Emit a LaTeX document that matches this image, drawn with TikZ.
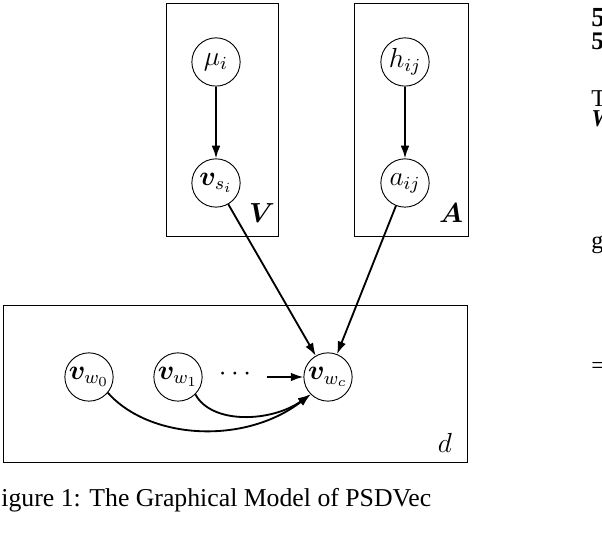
\documentclass[tikz,border=0pt]{standalone}
\usepackage{bm}
\usepackage{fontspec}
\newfontfamily\capfont{Liberation Serif}
\usetikzlibrary{arrows.meta}
\begin{document}
\begin{tikzpicture}[x=0.435pt,y=-0.435pt,
  font=\fontsize{11.5}{14}\selectfont,
  var/.style={circle,draw,thin,minimum size=21pt,inner sep=0pt},
  plate/.style={draw,thin},
  arr/.style={-{Latex[length=5.5pt,width=3.8pt]},thick},
  lbl/.style={inner sep=0pt},
  side/.style={inner sep=0pt,anchor=base west}]
\useasboundingbox (0,0) rectangle (602,550);
\clip (0,0) rectangle (602,550);
% plates
\draw[plate] (166,3) rectangle (278,236);
\draw[plate] (354,3) rectangle (468,236);
\draw[plate] (3,305) rectangle (467,462);
\node[lbl] (Vl) at (262,213) {$\bm{V}$};
\node[lbl] (Al) at (451,213) {$\bm{A}$};
\node[lbl] (dl) at (445,443) {$d$};
% variables
\node[var] (mu) at (216,62) {$\mu_i$};
\node[var] (vs) at (216,183) {$\bm{v}_{s_i}$};
\node[var] (h) at (405,62) {$h_{ij}$};
\node[var] (a) at (405,183) {$a_{ij}$};
\node[var] (w0) at (89,377) {$\bm{v}_{w_0}$};
\node[var] (w1) at (178,377) {$\bm{v}_{w_1}$};
\node[lbl] (dots) at (235,374) {$\cdots$};
\node[var] (wc) at (328,377) {$\bm{v}_{w_c}$};
\coordinate (ds) at (267,377);
% edges
\draw[arr] (mu) -- (vs);
\draw[arr] (h) -- (a);
\draw[arr] (vs) -- (wc);
\draw[arr] (a) -- (wc);
\draw[arr] (ds) -- (wc);
\draw[arr] (w0.-40) .. controls (150,440) and (245,445) .. (wc.225);
\draw[arr] (w1.-45) .. controls (212,425) and (272,422) .. (wc.225);
% caption and cropped page text
\node[side,font=\capfont\fontsize{11.2}{13}\selectfont] (cap) at (1,507) {igure 1: The Graphical Model of PSDVec};
\node[side,font=\capfont\bfseries\fontsize{12}{14}\selectfont] (s1) at (591,27) {5};
\node[side,font=\capfont\bfseries\fontsize{11}{13}\selectfont] (s2) at (591,50) {5};
\node[side,font=\capfont\fontsize{10.5}{12}\selectfont] (t1) at (591,107) {T};
\node[side,font=\capfont\bfseries\itshape\fontsize{10.5}{12}\selectfont] (t2) at (591,127) {W};
\node[side,font=\capfont\fontsize{10.5}{12}\selectfont] (t3) at (591,249) {g};
\node[side,font=\capfont\fontsize{10.5}{12}\selectfont] (t4) at (591,374) {=};
\end{tikzpicture}
\end{document}
